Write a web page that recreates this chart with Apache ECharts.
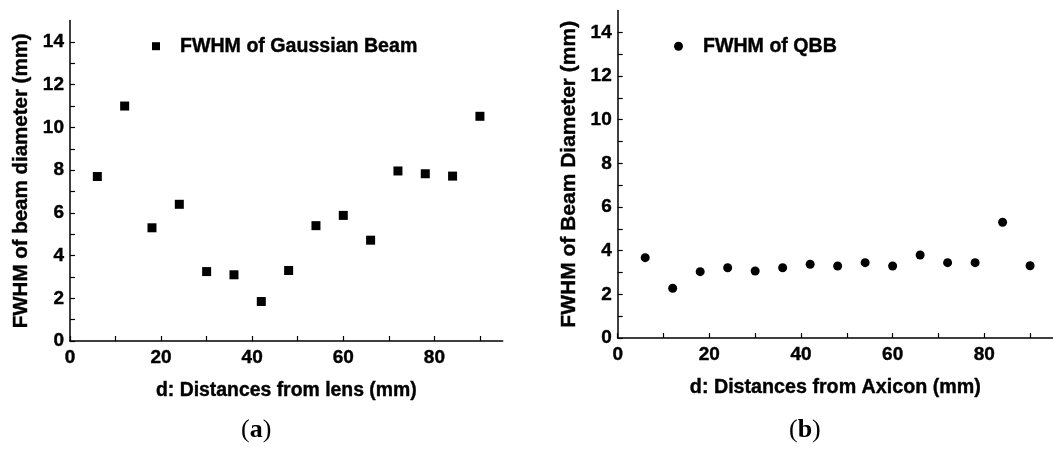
<!DOCTYPE html>
<html>
<head>
<meta charset="utf-8">
<script src="https://cdn.jsdelivr.net/npm/echarts@6/dist/echarts.min.js"></script>
<style>
  html, body { margin: 0; padding: 0; background: #fff; }
  #chart { width: 1053px; height: 452px; }
</style>
</head>
<body>
<div id="chart"></div>
<script>
var distances = [6, 12, 18, 24, 30, 36, 42, 48, 54, 60, 66, 72, 78, 84, 90];
var gaussianFwhm = [7.7, 11.0, 5.3, 6.4, 3.25, 3.1, 1.85, 3.3, 5.4, 5.88, 4.72, 7.96, 7.83, 7.72, 10.52];
var qbbFwhm = [3.68, 2.28, 3.04, 3.22, 3.07, 3.22, 3.38, 3.3, 3.45, 3.3, 3.8, 3.45, 3.45, 5.3, 3.31];
var xLabelTicks = [0, 20, 40, 60, 80];
var xMinorTicks = [0, 10, 20, 30, 40, 50, 60, 70, 80, 90];
var yLabelTicks = [0, 2, 4, 6, 8, 10, 12, 14];
var yMinorTicks = [0, 1, 2, 3, 4, 5, 6, 7, 8, 9, 10, 11, 12, 13, 14];

function pairs(xs, ys) {
    return xs.map(function (x, i) { return [x, ys[i]]; });
}

var font = '"Liberation Sans", Arial, sans-serif';

function boldText(size) {
    return { color: '#000', fontFamily: font, fontWeight: 'bold', fontSize: size,
             textBorderColor: '#000', textBorderWidth: 0.4 };
}

function xAxisFor(grid, name, nameSize) {
    return {
        type: 'value', gridIndex: grid, min: 0, max: 95,
        name: name, nameLocation: 'middle', nameGap: 40,
        nameTextStyle: boldText(nameSize),
        axisLine: { show: true, lineStyle: { color: '#000', width: 1.5 } },
        axisTick: { show: true, inside: true, length: 5, customValues: xMinorTicks, lineStyle: { color: '#000', width: 1.2 } },
        axisLabel: Object.assign({ customValues: xLabelTicks, margin: 7 }, boldText(19)),
        splitLine: { show: false }
    };
}

function yAxisFor(grid, name, nameSize) {
    return {
        type: 'value', gridIndex: grid, min: 0, max: 15,
        name: name, nameLocation: 'middle', nameGap: 38,
        nameTextStyle: boldText(nameSize),
        axisLine: { show: true, lineStyle: { color: '#000', width: 1.5 } },
        axisTick: { show: true, inside: true, length: 5, customValues: yMinorTicks, lineStyle: { color: '#000', width: 1.2 } },
        axisLabel: Object.assign({ customValues: yLabelTicks, margin: 6 }, boldText(19)),
        splitLine: { show: false }
    };
}

var myChart = echarts.init(document.getElementById('chart'));
myChart.setOption({
    backgroundColor: '#fff',
    animation: false,
    grid: [
        { left: 70, top: 20.6, right: 550.3, bottom: 111 },
        { left: 617.7, top: 10.5, right: -7.4, bottom: 114 }
    ],
    legend: [
        {
            data: [{ name: 'FWHM of Gaussian Beam', icon: 'rect' }],
            left: 147, top: 31, itemWidth: 8, itemHeight: 8,
            textStyle: Object.assign(boldText(19.6), { padding: [0, 0, 0, 15] })
        },
        {
            data: [{ name: 'FWHM of QBB', icon: 'circle' }],
            left: 669, top: 31, itemWidth: 9, itemHeight: 9,
            textStyle: Object.assign(boldText(19.6), { padding: [0, 0, 0, 15] })
        }
    ],
    xAxis: [
        xAxisFor(0, 'd: Distances from lens (mm)', 19.4),
        xAxisFor(1, 'd: Distances from Axicon (mm)', 19.7)
    ],
    yAxis: [
        yAxisFor(0, 'FWHM of beam diameter (mm)', 20.5),
        yAxisFor(1, 'FWHM of Beam Diameter (mm)', 21)
    ],
    series: [
        {
            name: 'FWHM of Gaussian Beam', type: 'scatter', xAxisIndex: 0, yAxisIndex: 0,
            symbol: 'rect', symbolSize: 9, itemStyle: { color: '#000', opacity: 1 },
            data: pairs(distances, gaussianFwhm)
        },
        {
            name: 'FWHM of QBB', type: 'scatter', xAxisIndex: 1, yAxisIndex: 1,
            symbol: 'circle', symbolSize: 9, itemStyle: { color: '#000', opacity: 1 },
            data: pairs(distances, qbbFwhm)
        }
    ],
    graphic: [
        {
            type: 'text', left: 241, top: 417,
            style: {
                text: '(' + '{b|a}' + ')',
                font: '26px "Liberation Serif", "Times New Roman", serif', fill: '#000',
                rich: { b: { fontFamily: '"Liberation Serif", serif', fontWeight: 'bold', fontSize: 26 } }
            }
        },
        {
            type: 'text', left: 789, top: 417,
            style: {
                text: '(' + '{b|b}' + ')',
                font: '26px "Liberation Serif", "Times New Roman", serif', fill: '#000',
                rich: { b: { fontFamily: '"Liberation Serif", serif', fontWeight: 'bold', fontSize: 26 } }
            }
        }
    ]
});
</script>
</body>
</html>
